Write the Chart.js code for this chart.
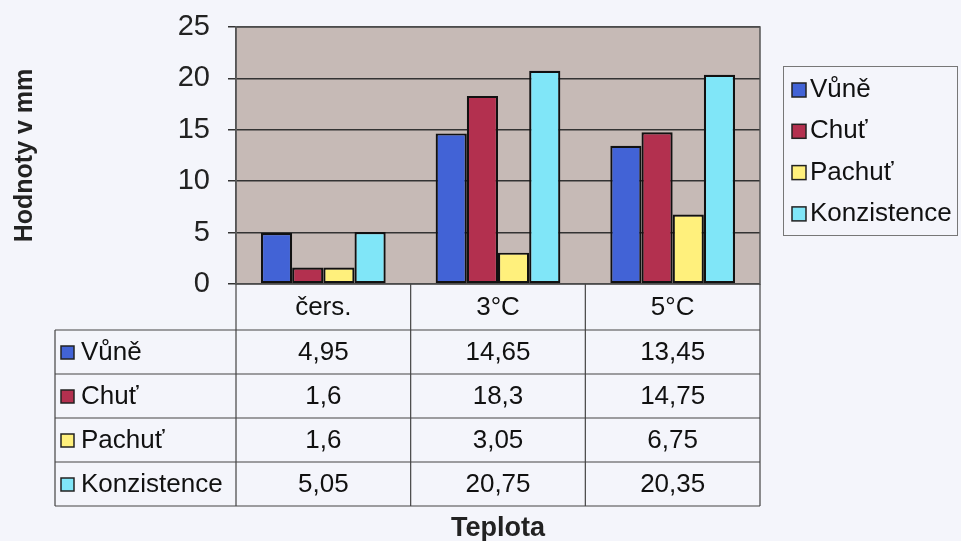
<!DOCTYPE html>
<html>
<head>
<meta charset="utf-8">
<script src="https://cdn.jsdelivr.net/npm/chart.js@4.4.1/dist/chart.umd.min.js"></script>
<style>
  html, body { margin: 0; padding: 0; background: #f4f5fb; }
  #wrap { width: 961px; height: 541px; }
</style>
</head>
<body>
<div id="wrap"><canvas id="chart" width="961" height="541"></canvas></div>
<script>
// data
const categories = ['čers.', '3°C', '5°C'];
const seriesNames = ['Vůně', 'Chuť', 'Pachuť', 'Konzistence'];
const vune = [4.95, 14.65, 13.45];
const chut = [1.6, 18.3, 14.75];
const pachut = [1.6, 3.05, 6.75];
const konzistence = [5.05, 20.75, 20.35];
const yTicks = [0, 5, 10, 15, 20, 25];

const colors = ['#4263d6', '#b3304f', '#fff07c', '#80e6f8'];
const font = 'Liberation Sans, Arial, sans-serif';

function fmt(v) {
  return String(v).replace('.', ','); // czech decimal comma
}

// plot background, frame, legend box and data table
const excelPlugin = {
  id: 'excel',
  beforeDraw(chart) {
    const {ctx, chartArea: a} = chart;
    ctx.save();
    ctx.fillStyle = '#c6bab6';
    ctx.fillRect(a.left, a.top, a.right - a.left, a.bottom - a.top);
    ctx.restore();
  },
  afterDraw(chart) {
    const {ctx, chartArea: a} = chart;
    const x = chart.scales.x;
    const ds = chart.data.datasets;
    ctx.save();

    // plot frame
    ctx.strokeStyle = '#555';
    ctx.lineWidth = 1.5;
    ctx.strokeRect(a.left, a.top, a.right - a.left, a.bottom - a.top);

    // data table
    const rowTop = a.bottom;
    const headH = 46;
    const rowH = 44;
    const tableLeft = 55;
    const tableBottom = rowTop + headH + rowH * ds.length;
    const colW = (a.right - a.left) / categories.length;

    ctx.strokeStyle = '#444';
    ctx.lineWidth = 1.2;
    ctx.beginPath();
    for (let i = 0; i <= categories.length; i++) {
      const cx = a.left + i * colW;
      ctx.moveTo(cx, rowTop);
      ctx.lineTo(cx, tableBottom);
    }
    ctx.moveTo(tableLeft, rowTop + headH);
    ctx.lineTo(tableLeft, tableBottom);
    for (let r = 0; r <= ds.length; r++) {
      const ry = rowTop + headH + r * rowH;
      ctx.moveTo(tableLeft, ry);
      ctx.lineTo(a.right, ry);
    }
    ctx.stroke();

    ctx.fillStyle = '#111';
    ctx.textBaseline = 'middle';
    ctx.textAlign = 'center';
    ctx.font = '26px ' + font;
    categories.forEach((c, i) => {
      ctx.fillText(c, x.getPixelForValue(i), rowTop + headH / 2 + 1);
    });

    ds.forEach((d, r) => {
      const cy = rowTop + headH + r * rowH + rowH / 2 + 1;
      ctx.fillStyle = d.backgroundColor;
      ctx.fillRect(61, cy - 7, 13, 13);
      ctx.strokeStyle = '#222';
      ctx.lineWidth = 1.5;
      ctx.strokeRect(61, cy - 7, 13, 13);
      ctx.fillStyle = '#111';
      ctx.textAlign = 'left';
      ctx.fillText(d.label, 81, cy);
      ctx.textAlign = 'center';
      d.data.forEach((v, i) => {
        ctx.fillText(fmt(v), x.getPixelForValue(i), cy);
      });
    });

    // legend
    ctx.strokeStyle = '#777';
    ctx.lineWidth = 1;
    ctx.strokeRect(783.5, 66.5, 174, 169);
    ds.forEach((d, i) => {
      const cy = 90 + i * 41.3;
      ctx.fillStyle = d.backgroundColor;
      ctx.fillRect(792, cy - 7, 14, 14);
      ctx.strokeStyle = '#222';
      ctx.lineWidth = 1.5;
      ctx.strokeRect(792, cy - 7, 14, 14);
      ctx.fillStyle = '#111';
      ctx.textAlign = 'left';
      ctx.fillText(d.label, 810, cy);
    });

    ctx.restore();
  }
};

const seriesData = [vune, chut, pachut, konzistence];

new Chart(document.getElementById('chart'), {
  type: 'bar',
  data: {
    labels: categories,
    datasets: seriesNames.map((name, i) => ({
      label: name,
      data: seriesData[i],
      backgroundColor: colors[i],
      borderColor: '#111',
      borderWidth: 2.2,
      borderSkipped: false,
      categoryPercentage: 0.714,
      barPercentage: 1
    }))
  },
  options: {
    responsive: false,
    animation: false,
    layout: {
      padding: { top: 27, right: 201, bottom: 0, left: 0 }
    },
    scales: {
      x: {
        ticks: { display: false },
        grid: { display: false },
        border: { display: false },
        afterFit(scale) { scale.height = 257; },
        title: {
          display: true,
          text: 'Teplota',
          color: '#222',
          font: { family: font, size: 27, weight: 'bold' },
          padding: { top: 0, bottom: -4 }
        }
      },
      y: {
        min: 0,
        max: 25,
        afterBuildTicks(scale) { scale.ticks = yTicks.map(v => ({ value: v })); },
        afterFit(scale) {
          scale.width = 236;
          scale.paddingTop = 0;
          scale.paddingBottom = 0;
        },
        ticks: {
          color: '#222',
          padding: 18,
          font: { family: font, size: 29 }
        },
        grid: {
          color: '#333',
          lineWidth: 1.5,
          tickLength: 8
        },
        border: { color: '#555', width: 1.5 },
        title: {
          display: true,
          text: 'Hodnoty v mm',
          color: '#222',
          font: { family: font, size: 25, weight: 'bold' },
          padding: { top: 10, bottom: 0 }
        }
      }
    },
    plugins: {
      legend: { display: false },
      tooltip: { enabled: false }
    }
  },
  plugins: [excelPlugin]
});
</script>
</body>
</html>
